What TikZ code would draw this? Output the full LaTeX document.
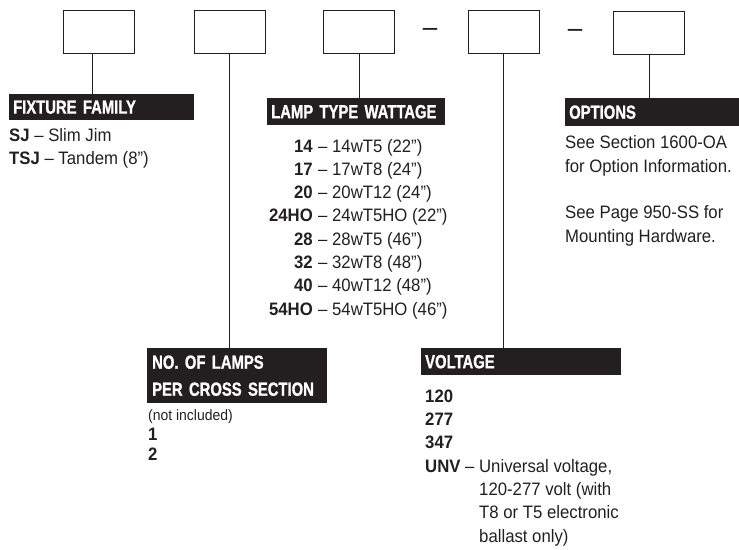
\documentclass[tikz,border=0pt]{standalone}
\usepackage{fontspec}
\setmainfont{Liberation Sans}[FakeStretch=0.93]
\newfontfamily\hdfont{Liberation Sans}[FakeStretch=0.78, FakeBold=1]
\definecolor{ink}{HTML}{231F20}
\begin{document}
\begin{tikzpicture}[x=1pt,y=-1pt,
  box/.style={draw=ink, line width=0.9pt, minimum width=71, minimum height=43, inner sep=0},
  conn/.style={draw=ink, line width=0.8pt},
  hdr/.style={fill=ink, text=white, font=\hdfont\bfseries\fontsize{19}{27}\selectfont,
    anchor=north west, align=left, inner xsep=4, inner ysep=0, minimum height=26},
  txt/.style={anchor=base west, inner sep=0, text=ink, font=\fontsize{18}{23}\selectfont},
  small/.style={anchor=base west, inner sep=0, text=ink, font=\fontsize{15}{20}\selectfont},
  code/.style={anchor=base east, inner sep=0, text=ink, font=\bfseries\fontsize{18}{23}\selectfont},
  dashmark/.style={inner sep=0, text=ink, font=\fontsize{28}{28}\selectfont}
]
\useasboundingbox (0,0) rectangle (739,549);

% code boxes
\node[box] (b1) at (98.5,31.5) {};
\node[box] (b2) at (229.5,31.5) {};
\node[box] (b3) at (359,31.5) {};
\node[box] (b4) at (503.5,31.5) {};
\node[box] (b5) at (649,32.5) {};
\node[dashmark] (m1) at (430,32) {–};
\node[dashmark] (m2) at (575,33) {–};

% headers
\node[hdr, text width=177] (ff) at (9,94) {FIXTURE FAMILY};
\node[hdr, text width=170, minimum height=27] (lt) at (267,98) {LAMP TYPE WATTAGE};
\node[hdr, text width=166, minimum height=28] (op) at (565,98) {OPTIONS};
\node[hdr, text width=170, minimum height=55, inner xsep=5] (nl) at (147,348) {NO. OF LAMPS\\PER CROSS SECTION};
\node[hdr, text width=192, minimum height=27] (vo) at (421,348) {VOLTAGE};

% connectors
\draw[conn] ([xshift=-6.5]b1.south) -- ([xshift=-6.5]b1.south |- ff.north);
\draw[conn] (b2.south) -- (b2.south |- nl.north);
\draw[conn] (b3.south) -- (b3.south |- lt.north);
\draw[conn] (b4.south) -- (b4.south |- vo.north);
\draw[conn] (b5.south) -- (b5.south |- op.north);

% fixture family
\node[txt] (sj) at (9,141) {\textbf{SJ} – Slim Jim};
\node[txt] (tsj) at (9,164) {\textbf{TSJ} – Tandem (8")};

% lamp type wattage
\node[code] (c1) at (313,152) {14};
\node[txt] (d1) at (318,152) {– 14wT5 (22”)};
\node[code] (c2) at (313,175.3) {17};
\node[txt] (d2) at (318,175.3) {– 17wT8 (24")};
\node[code] (c3) at (313,198.6) {20};
\node[txt] (d3) at (318,198.6) {– 20wT12 (24")};
\node[code] (c4) at (313,221.9) {24HO};
\node[txt] (d4) at (318,221.9) {– 24wT5HO (22”)};
\node[code] (c5) at (313,245.2) {28};
\node[txt] (d5) at (318,245.2) {– 28wT5 (46”)};
\node[code] (c6) at (313,268.5) {32};
\node[txt] (d6) at (318,268.5) {– 32wT8 (48")};
\node[code] (c7) at (313,291.8) {40};
\node[txt] (d7) at (318,291.8) {– 40wT12 (48")};
\node[code] (c8) at (313,315.1) {54HO};
\node[txt] (d8) at (318,315.1) {– 54wT5HO (46”)};

% options
\node[txt] (o1) at (565,148) {See Section 1600-OA};
\node[txt] (o2) at (565,172) {for Option Information.};
\node[txt] (o3) at (565,218) {See Page 950-SS for};
\node[txt] (o4) at (565,242) {Mounting Hardware.};

% number of lamps
\node[small] (n0) at (148,420) {(not included)};
\node[txt] (n1) at (148,440) {\textbf{1}};
\node[txt] (n2) at (148,460) {\textbf{2}};

% voltage
\node[txt] (v1) at (425,402) {\textbf{120}};
\node[txt] (v2) at (425,425) {\textbf{277}};
\node[txt] (v3) at (425,448) {\textbf{347}};
\node[txt] (v4) at (425,472) {\textbf{UNV} – Universal voltage,};
\node[txt] (v5) at (479,495) {120-277 volt (with};
\node[txt] (v6) at (479,518) {T8 or T5 electronic};
\node[txt] (v7) at (479,542) {ballast only)};
\end{tikzpicture}
\end{document}
